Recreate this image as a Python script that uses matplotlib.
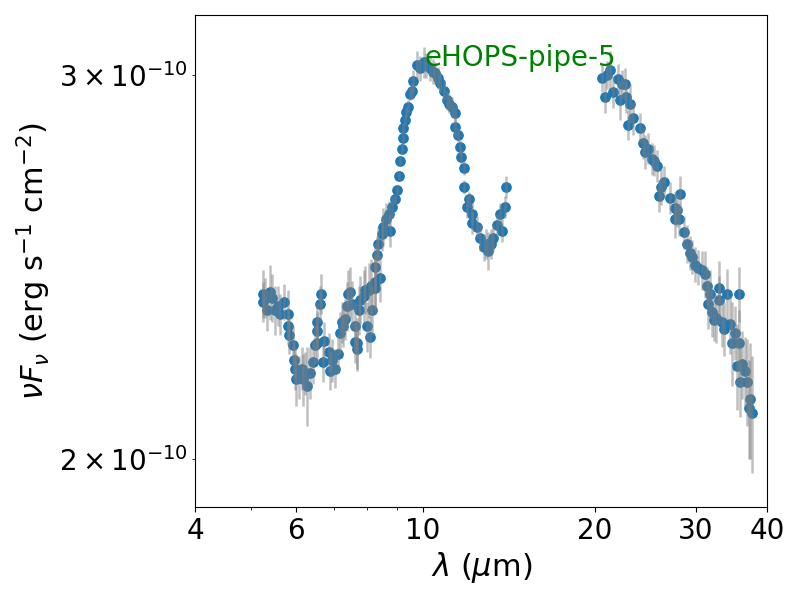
import numpy as np
import matplotlib
matplotlib.use('Agg')
import matplotlib.pyplot as plt
from matplotlib.ticker import ScalarFormatter, NullFormatter

# short-wavelength part (micron, flux in 1e-10 erg/s/cm2)
wl_short = [5.25, 5.25, 5.41, 5.45, 5.34, 5.52, 5.73, 5.63, 5.81, 5.81,
            5.84, 5.93, 5.96, 5.98, 6.00, 6.14, 6.18, 6.27, 6.36, 6.42,
            6.47, 6.53, 6.53, 6.64, 6.62, 6.71, 6.53, 6.85, 6.70, 6.89,
            7.03, 7.12, 7.17, 7.22, 7.37, 7.47, 7.41, 7.62, 7.67, 7.72,
            7.88, 8.04, 7.98, 8.09, 8.15, 8.26, 8.26, 8.42, 8.26, 8.31,
            8.36, 8.48, 8.53, 8.61, 8.71, 8.83, 8.77, 7.32, 7.53, 7.77,
            7.93, 8.12, 7.62, 7.67, 5.30, 5.58, 6.08, 6.22, 6.95, 7.25]
fl_short = [2.38, 2.36, 2.385, 2.37, 2.34, 2.34, 2.36, 2.33, 2.33, 2.30,
            2.28, 2.255, 2.22, 2.20, 2.175, 2.20, 2.175, 2.16, 2.19, 2.215,
            2.255, 2.29, 2.31, 2.38, 2.355, 2.265, 2.26, 2.24, 2.215, 2.195,
            2.20, 2.235, 2.285, 2.31, 2.35, 2.385, 2.38, 2.30, 2.26, 2.34,
            2.375, 2.39, 2.30, 2.275, 2.34, 2.395, 2.41, 2.42, 2.45, 2.48,
            2.51, 2.535, 2.555, 2.575, 2.59, 2.61, 2.545, 2.317, 2.354, 2.366,
            2.391, 2.40, 2.262, 2.245, 2.37, 2.35, 2.18, 2.19, 2.22, 2.30]
er_short = [0.06, 0.05, 0.07, 0.06, 0.05, 0.06, 0.045, 0.05, 0.06, 0.045,
            0.045, 0.045, 0.045, 0.05, 0.06, 0.05, 0.06, 0.09, 0.06, 0.05,
            0.045, 0.045, 0.05, 0.05, 0.045, 0.045, 0.045, 0.045, 0.045, 0.045,
            0.045, 0.045, 0.05, 0.05, 0.06, 0.065, 0.06, 0.06, 0.06, 0.06,
            0.065, 0.07, 0.06, 0.05, 0.06, 0.065, 0.07, 0.06, 0.06, 0.05,
            0.045, 0.045, 0.05, 0.045, 0.035, 0.03, 0.045, 0.05, 0.06, 0.06,
            0.06, 0.07, 0.05, 0.05, 0.05, 0.05, 0.05, 0.05, 0.05, 0.05]

# silicate peak
wl_mid = [8.95, 9.01, 9.07, 9.13, 9.19, 9.23, 9.25, 9.31, 9.35, 9.43,
          9.50, 9.56, 9.63, 9.76, 9.89, 10.03, 10.14, 10.30, 10.40, 10.51,
          10.61, 10.72, 10.87, 11.01, 11.12, 11.24, 11.39, 11.39, 11.54, 11.62,
          11.65, 11.78, 11.81, 12.02, 11.94, 12.18, 12.18, 12.43, 12.60, 12.77,
          12.90, 13.02, 13.16, 13.29, 13.47, 13.74, 13.65, 13.93, 13.99]
fl_mid = [2.63, 2.655, 2.695, 2.74, 2.775, 2.805, 2.835, 2.86, 2.885, 2.90,
          2.94, 2.95, 2.98, 3.03, 3.02, 3.04, 3.03, 3.02, 3.01, 3.005,
          2.99, 2.975, 2.95, 2.92, 2.91, 2.90, 2.88, 2.84, 2.815, 2.78,
          2.75, 2.72, 2.665, 2.63, 2.61, 2.59, 2.565, 2.555, 2.525, 2.50,
          2.51, 2.49, 2.51, 2.525, 2.56, 2.545, 2.59, 2.61, 2.665]
er_mid = [0.012, 0.012, 0.012, 0.012, 0.012, 0.012, 0.015, 0.015, 0.015, 0.02,
          0.02, 0.025, 0.035, 0.045, 0.04, 0.05, 0.04, 0.04, 0.04, 0.035,
          0.035, 0.03, 0.03, 0.03, 0.03, 0.03, 0.03, 0.03, 0.02, 0.02,
          0.02, 0.02, 0.02, 0.02, 0.03, 0.03, 0.03, 0.03, 0.035, 0.035,
          0.04, 0.05, 0.04, 0.035, 0.03, 0.03, 0.03, 0.03, 0.03]

# long-wavelength part
wl_long = [20.56, 20.83, 21.26, 21.00, 21.54, 21.97, 22.30, 22.58, 22.13, 22.67,
           23.04, 22.88, 23.35, 23.99, 24.31, 24.48, 24.77, 25.14, 25.66, 25.38,
           26.35, 26.10, 25.83, 27.07, 28.18, 27.62, 27.80, 27.62, 27.99, 28.56,
           28.94, 29.34, 29.58, 29.94, 30.30, 30.75, 31.16, 31.37, 31.80, 32.90,
           34.03, 35.73, 32.90, 31.58, 32.02, 32.24, 32.58, 33.34, 33.56, 34.47,
           35.17, 34.70, 35.64, 35.41, 36.15, 36.61, 35.88, 36.86, 37.35, 37.10,
           37.60]
fl_long = [2.99, 2.93, 3.015, 3.00, 2.945, 2.985, 2.97, 2.97, 2.92, 2.93,
           2.91, 2.845, 2.865, 2.835, 2.79, 2.765, 2.775, 2.745, 2.725, 2.74,
           2.68, 2.665, 2.64, 2.635, 2.645, 2.605, 2.60, 2.575, 2.575, 2.54,
           2.51, 2.485, 2.475, 2.455, 2.447, 2.44, 2.43, 2.40, 2.38, 2.395,
           2.38, 2.38, 2.365, 2.355, 2.335, 2.315, 2.32, 2.31, 2.295, 2.305,
           2.285, 2.26, 2.26, 2.205, 2.21, 2.195, 2.17, 2.17, 2.13, 2.11,
           2.10]
er_long = [0.045, 0.05, 0.06, 0.045, 0.05, 0.05, 0.045, 0.05, 0.06, 0.05,
           0.06, 0.045, 0.05, 0.045, 0.045, 0.05, 0.045, 0.045, 0.045, 0.045,
           0.045, 0.05, 0.045, 0.045, 0.05, 0.045, 0.045, 0.05, 0.045, 0.045,
           0.05, 0.045, 0.045, 0.045, 0.045, 0.05, 0.06, 0.05, 0.06, 0.07,
           0.065, 0.07, 0.06, 0.06, 0.06, 0.05, 0.06, 0.06, 0.065, 0.07,
           0.065, 0.1, 0.08, 0.1, 0.08, 0.08, 0.08, 0.1, 0.13, 0.11,
           0.13]

wl = np.array(wl_short + wl_mid + wl_long)
flux = np.array(fl_short + fl_mid + fl_long) * 1e-10
err = np.array(er_short + er_mid + er_long) * 1e-10

fig, ax = plt.subplots(figsize=(8, 6), dpi=100)
fig.subplots_adjust(left=0.244, right=0.959, bottom=0.155, top=0.975)

ax.scatter(wl, flux, s=45, color='tab:blue', zorder=2)
ax.errorbar(wl, flux, yerr=err, fmt='none', ecolor='gray', alpha=0.5,
            elinewidth=1.8, zorder=3)

ax.set_xscale('log')
ax.set_yscale('log')
ax.set_xlim(4, 40)
ax.set_ylim(1.901e-10, 3.195e-10)

ax.set_xticks([4, 6, 10, 20, 30, 40])
ax.xaxis.set_major_formatter(ScalarFormatter())
ax.xaxis.set_minor_formatter(NullFormatter())
ax.tick_params(which='both', labelsize=20)

ax.set_xlabel(r'$\lambda$ ($\mu$m)', fontsize=22)
ax.set_ylabel(r'$\nu F_\nu$ (erg s$^{-1}$ cm$^{-2}$)', fontsize=22)

ax.text(0.40, 0.913, 'eHOPS-pipe-5', color='green', fontsize=20,
        transform=ax.transAxes, ha='left', va='center')

plt.savefig('out.png')
